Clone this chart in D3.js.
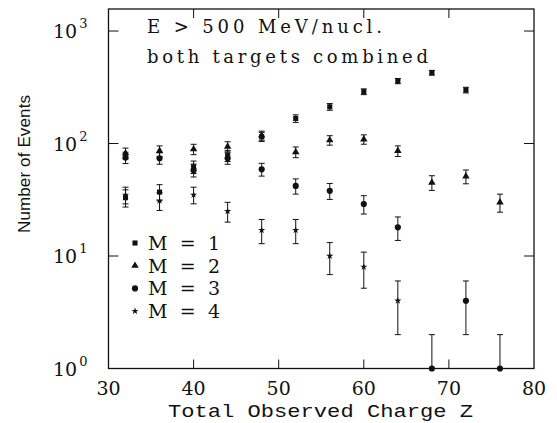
<!DOCTYPE html>
<html>
<head>
<meta charset="utf-8">
<script src="https://cdn.jsdelivr.net/npm/d3@7"></script>
<style>
  html, body { margin: 0; padding: 0; background: #fff; }
  svg { display: block; }
  .serif { font-family: 'DejaVu Serif', 'Liberation Serif', serif; }
  .mono { font-family: 'Liberation Mono', 'DejaVu Sans Mono', monospace; }
  .sans { font-family: 'Liberation Sans', Arial, Helvetica, sans-serif; }
</style>
</head>
<body>
<div id="chart"></div>
<script>
/* ===== Events vs total observed charge ===== */

const charges = [32, 36, 40, 44, 48, 52, 56, 60, 64, 68, 72, 76];

// counts per multiplicity (null = no point)
const m1 = [33, 37, 62, 78, 115, 167, 212, 289, 359, 426, 299, null];
const m2 = [82, 86, 89, 94, 118, 84, 107, 109, 86, 45, 51, 30];
const m3 = [75, 74, 58, 74, 59, 42, 38, 29, 18, 1, 4, 1];
const m4 = [35, 31, 35, 25, 17, 17, 10, 8, 4, null, null, null];

const xTicks = [30, 40, 50, 60, 70, 80];
const yTicks = [1, 10, 100, 1000];
const yExps = ['0', '1', '2', '3'];

const legendLabels = ['M  =  1', 'M  =  2', 'M  =  3', 'M  =  4'];

const W = 557, H = 423;
const ink = '#111';

const svg = d3.select('#chart')
  .append('svg')
  .attr('width', W)
  .attr('height', H);

const x = d3.scaleLinear().domain([30, 80]).range([108.5, 534]);
const y = d3.scaleLog().domain([1, 1570]).range([368.5, 9]);

const plotL = x.range()[0], plotR = x.range()[1];
const plotB = y.range()[0], plotT = y.range()[1];

// Frame
svg.append('rect')
  .attr('x', plotL).attr('y', plotT)
  .attr('width', plotR - plotL).attr('height', plotB - plotT)
  .attr('fill', 'none')
  .attr('stroke', ink)
  .attr('stroke-width', 1.3);

// Inner ticks, x (bottom and top)
const innerX = xTicks.filter(d => d > 30 && d < 80);
svg.selectAll('.xtick-b')
  .data(innerX)
  .join('line')
  .attr('x1', d => x(d)).attr('x2', d => x(d))
  .attr('y1', plotB).attr('y2', plotB - 9)
  .attr('stroke', ink).attr('stroke-width', 1);
svg.selectAll('.xtick-t')
  .data(innerX)
  .join('line')
  .attr('x1', d => x(d)).attr('x2', d => x(d))
  .attr('y1', plotT).attr('y2', plotT + 9)
  .attr('stroke', ink).attr('stroke-width', 1);

// Inner ticks, y (left and right)
const innerY = yTicks.filter(d => d > 1);
svg.selectAll('.ytick-l')
  .data(innerY)
  .join('line')
  .attr('x1', plotL).attr('x2', plotL + 10)
  .attr('y1', d => y(d)).attr('y2', d => y(d))
  .attr('stroke', ink).attr('stroke-width', 1);
svg.selectAll('.ytick-r')
  .data(innerY)
  .join('line')
  .attr('x1', plotR).attr('x2', plotR - 10)
  .attr('y1', d => y(d)).attr('y2', d => y(d))
  .attr('stroke', ink).attr('stroke-width', 1);

// X tick labels
svg.selectAll('.xlabel')
  .data(xTicks)
  .join('text')
  .attr('class', 'serif')
  .attr('x', d => x(d))
  .attr('y', 395)
  .attr('text-anchor', 'middle')
  .attr('font-size', '19px')
  .attr('fill', ink)
  .text(d => d);

// Y tick labels 10^n
const yl = svg.selectAll('.ylabel')
  .data(yTicks)
  .join('text')
  .attr('class', 'serif')
  .attr('x', 53)
  .attr('y', d => y(d) + 7)
  .attr('font-size', '19px')
  .attr('fill', ink);
yl.append('tspan').text('10');
yl.append('tspan')
  .attr('dy', -10)
  .attr('dx', 2)
  .attr('font-size', '13px')
  .text((d, i) => yExps[i]);

// Axis titles
svg.append('text')
  .attr('class', 'mono')
  .attr('x', 168)
  .attr('y', 417)
  .attr('font-size', '18px')
  .attr('textLength', 305)
  .attr('lengthAdjust', 'spacingAndGlyphs')
  .attr('fill', ink)
  .text('Total Observed Charge Z');

svg.append('text')
  .attr('class', 'sans')
  .attr('transform', 'translate(30,164) rotate(-90)')
  .attr('text-anchor', 'middle')
  .attr('font-size', '17px')
  .attr('textLength', 138)
  .attr('lengthAdjust', 'spacing')
  .attr('fill', ink)
  .text('Number of Events');

// Annotations
svg.append('text')
  .attr('class', 'serif')
  .attr('x', 147).attr('y', 33)
  .attr('font-size', '18px')
  .attr('textLength', 235)
  .attr('lengthAdjust', 'spacing')
  .attr('fill', ink)
  .text('E > 500 MeV/nucl.');

svg.append('text')
  .attr('class', 'serif')
  .attr('x', 147).attr('y', 63)
  .attr('font-size', '18px')
  .attr('textLength', 281)
  .attr('lengthAdjust', 'spacing')
  .attr('fill', ink)
  .text('both targets combined');

// Series
const series = [
  { values: m1, symbol: d3.symbolSquare, size: 26 },
  { values: m2, symbol: d3.symbolTriangle, size: 24 },
  { values: m3, symbol: d3.symbolCircle, size: 30 },
  { values: m4, symbol: d3.symbolStar, size: 16 }
];

const capW = 3;

series.forEach(s => {
  const pts = charges
    .map((z, i) => ({ z, v: s.values[i] }))
    .filter(d => d.v != null);

  const g = svg.append('g');

  // Error bars (Poisson)
  pts.forEach(d => {
    const e = Math.sqrt(d.v);
    const hi = d.v + e;
    const lo = d.v - e;
    const yLo = lo > 1 ? y(lo) : plotB;
    g.append('line')
      .attr('x1', x(d.z)).attr('x2', x(d.z))
      .attr('y1', y(hi)).attr('y2', yLo)
      .attr('stroke', ink).attr('stroke-width', 1);
    g.append('line')
      .attr('x1', x(d.z) - capW).attr('x2', x(d.z) + capW)
      .attr('y1', y(hi)).attr('y2', y(hi))
      .attr('stroke', ink).attr('stroke-width', 1);
    if (lo > 1) {
      g.append('line')
        .attr('x1', x(d.z) - capW).attr('x2', x(d.z) + capW)
        .attr('y1', y(lo)).attr('y2', y(lo))
        .attr('stroke', ink).attr('stroke-width', 1);
    }
  });

  g.selectAll('path')
    .data(pts)
    .join('path')
    .attr('transform', d => `translate(${x(d.z)},${y(d.v)})`)
    .attr('d', d3.symbol().type(s.symbol).size(s.size))
    .attr('fill', ink);
});

// Legend
const legend = svg.append('g');
series.forEach((s, i) => {
  const cy = 243 + i * 22.7;
  legend.append('path')
    .attr('transform', `translate(135,${cy})`)
    .attr('d', d3.symbol().type(s.symbol).size(s.size))
    .attr('fill', ink);
  legend.append('text')
    .attr('class', 'serif')
    .attr('x', 148)
    .attr('y', cy + 7)
    .attr('font-size', '19px')
    .attr('textLength', 72)
    .attr('lengthAdjust', 'spacing')
    .attr('fill', ink)
    .text(legendLabels[i]);
});
</script>
</body>
</html>
